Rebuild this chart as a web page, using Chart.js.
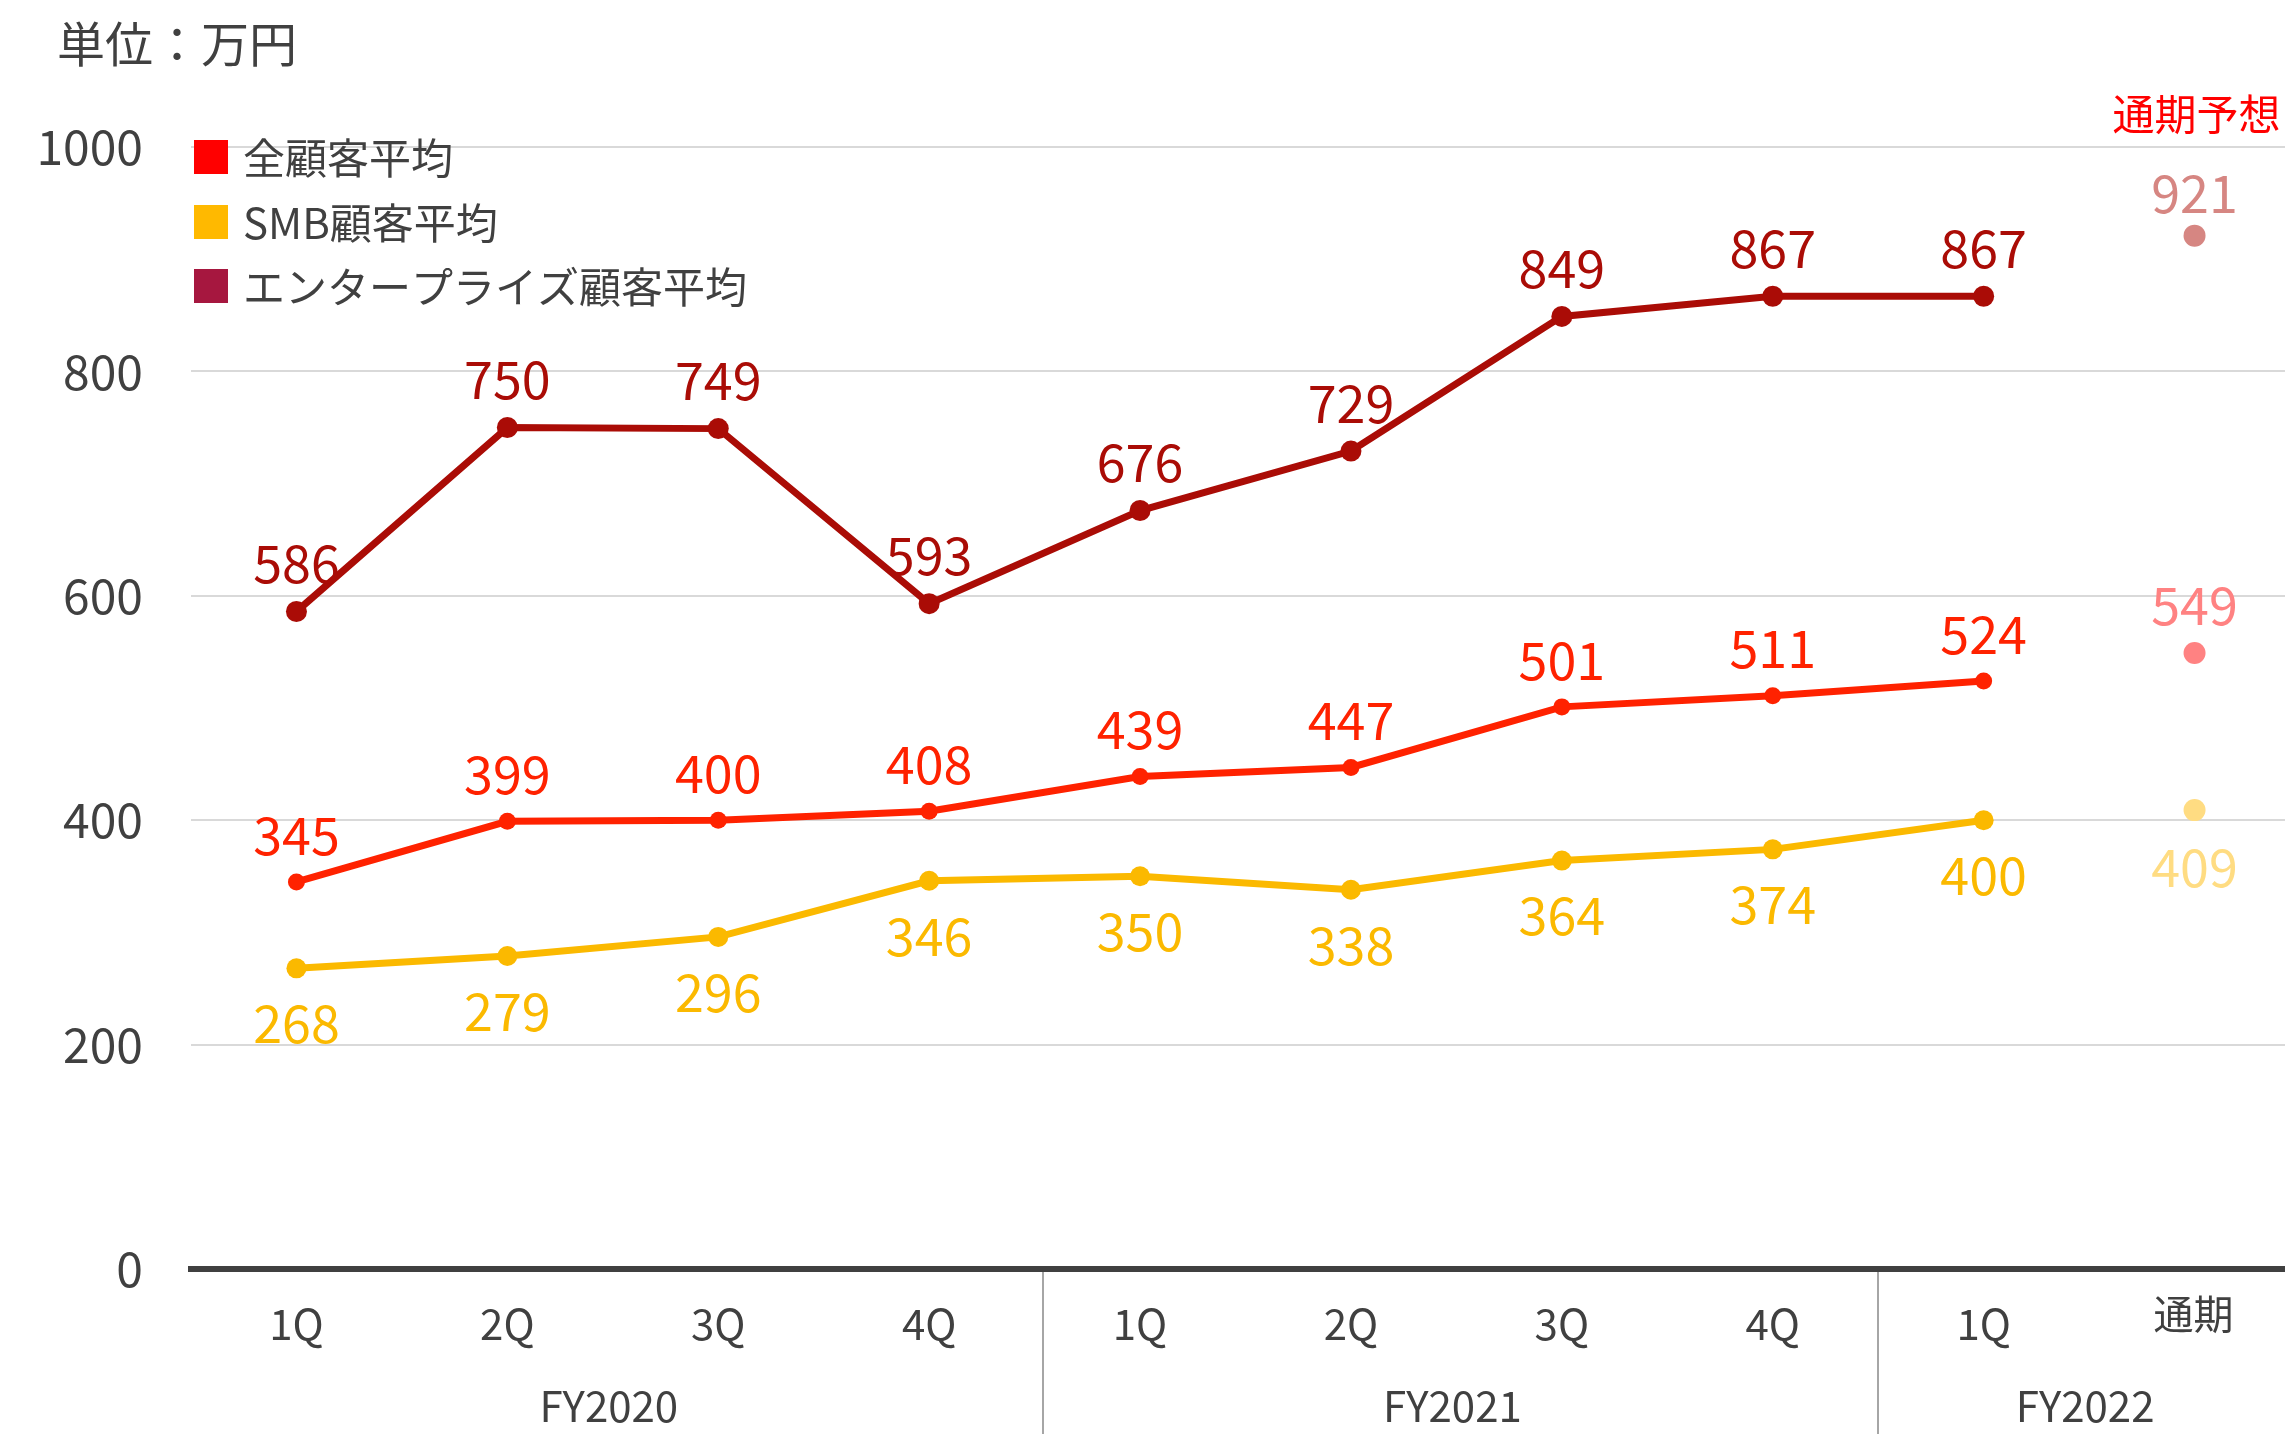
<!DOCTYPE html>
<html><head><meta charset="utf-8">
<script src="https://cdn.jsdelivr.net/npm/chart.js@4.4.0/dist/chart.umd.min.js"></script>
<style>html,body{margin:0;padding:0;background:#fff;overflow:hidden;width:2285px;height:1434px}canvas{display:block}</style>
</head><body>
<canvas id="c" width="2320" height="1434" style="width:2320px;height:1434px"></canvas>
<script>
// ---- data ----
const categories = ['1Q','2Q','3Q','4Q','1Q','2Q','3Q','4Q','1Q','通期'];
const fyLabels = ['FY2020','FY2021','FY2022'];
const fyStart = [0,4,8];
const fyEnd = [3,7,9];
const seriesNames = ['全顧客平均','SMB顧客平均','エンタープライズ顧客平均'];
const allAvg = [345,399,400,408,439,447,501,511,524,null];
const smbAvg = [268,279,296,346,350,338,364,374,400,null];
const entAvg = [586,750,749,593,676,729,849,867,867,null];
const allForecast = [null,null,null,null,null,null,null,null,null,549];
const smbForecast = [null,null,null,null,null,null,null,null,null,409];
const entForecast = [null,null,null,null,null,null,null,null,null,921];
const yTicks = [0,200,400,600,800,1000];
const unitLabel = '単位：万円';
const forecastTitle = '通期予想';

const FONT = "'Noto Sans CJK JP','Noto Sans',sans-serif";
const TXT = '#404040';
const C_ALL = '#FF2200', C_SMB = '#FBB900', C_ENT = '#AA0C06';
const C_ALL_F = '#FF8282', C_SMB_F = '#FFDC82', C_ENT_F = '#D68682';
const legendColors = ['#FF0000','#FFB900','#A6173F'];

// offsets of value labels relative to the point (px)
const labelOffset = [-48, -47, 55, -42, -48, 57];
const dividerNudge = [8, 0];

const datasets = [
  {data: entAvg, borderColor: C_ENT, backgroundColor: C_ENT, borderWidth: 7, pointRadius: 10.5},
  {data: allAvg, borderColor: C_ALL, backgroundColor: C_ALL, borderWidth: 7, pointRadius: 8.5},
  {data: smbAvg, borderColor: C_SMB, backgroundColor: C_SMB, borderWidth: 7, pointRadius: 10},
  {data: entForecast, borderColor: C_ENT_F, backgroundColor: C_ENT_F, showLine: false, pointRadius: 11},
  {data: allForecast, borderColor: C_ALL_F, backgroundColor: C_ALL_F, showLine: false, pointRadius: 11},
  {data: smbForecast, borderColor: C_SMB_F, backgroundColor: C_SMB_F, showLine: false, pointRadius: 11}
].map(d => Object.assign({pointBorderWidth: 0, pointHoverRadius: d.pointRadius, spanGaps: false, tension: 0}, d));

const decor = {
  id: 'decor',
  afterDatasetsDraw(chart) {
    const ctx = chart.ctx;
    const xs = chart.scales.x;
    const ca = chart.chartArea;
    ctx.save();
    // value labels
    ctx.textAlign = 'center';
    ctx.textBaseline = 'middle';
    ctx.font = '52px ' + FONT;
    chart.data.datasets.forEach((ds, di) => {
      const meta = chart.getDatasetMeta(di);
      ds.data.forEach((v, i) => {
        if (v === null) return;
        const el = meta.data[i];
        ctx.fillStyle = ds.borderColor;
        ctx.fillText(String(v), el.x, el.y + labelOffset[di]);
      });
    });
    // title
    ctx.fillStyle = TXT;
    ctx.textAlign = 'left';
    ctx.font = '48px ' + FONT;
    ctx.fillText(unitLabel, 57, 44);
    // legend
    ctx.font = '42px ' + FONT;
    const rows = [157, 222, 286];
    seriesNames.forEach((n, i) => {
      ctx.fillStyle = legendColors[i];
      ctx.fillRect(194, rows[i] - 17, 34, 34);
      ctx.fillStyle = TXT;
      ctx.fillText(n, 243, rows[i] + 1);
    });
    // forecast title
    ctx.fillStyle = '#FF0000';
    ctx.textAlign = 'center';
    ctx.font = '42px ' + FONT;
    ctx.fillText(forecastTitle, xs.getPixelForValue(9) + 2, 114);
    // category labels
    ctx.fillStyle = TXT;
    categories.forEach((c, i) => {
      const isCjk = /[^\x00-\x7f]/.test(c);
      ctx.font = (isCjk ? '40px ' : '42px ') + FONT;
      ctx.fillText(c, xs.getPixelForValue(i) + (isCjk ? -1 : 0), isCjk ? 1314 : 1324);
    });
    // fiscal-year labels
    ctx.font = '42px ' + FONT;
    fyLabels.forEach((f, i) => {
      const x = (xs.getPixelForValue(fyStart[i]) + xs.getPixelForValue(fyEnd[i])) / 2;
      ctx.fillText(f, x - 4, 1406);
    });
    // group dividers
    ctx.strokeStyle = '#A6A6A6';
    ctx.lineWidth = 2;
    for (let i = 1; i < fyStart.length; i++) {
      const x = Math.round((xs.getPixelForValue(fyStart[i] - 1) + xs.getPixelForValue(fyStart[i])) / 2) + dividerNudge[i - 1];
      ctx.beginPath();
      ctx.moveTo(x, ca.bottom + 3);
      ctx.lineTo(x, 1434);
      ctx.stroke();
    }
    ctx.restore();
  }
};

new Chart(document.getElementById('c'), {
  type: 'line',
  data: {labels: categories, datasets},
  options: {
    responsive: false,
    animation: false,
    events: [],
    layout: {padding: {top: 147, right: 20, bottom: 0, left: 0}},
    plugins: {legend: {display: false}, tooltip: {enabled: false}},
    scales: {
      x: {
        type: 'category',
        offset: true,
        grid: {display: false, drawTicks: false},
        border: {display: true, color: '#404040', width: 6},
        ticks: {display: false},
        afterFit(s) { s.height = 165; }
      },
      y: {
        min: 0, max: 1000,
        afterBuildTicks(s) { s.ticks = yTicks.map(v => ({value: v})); },
        grid: {color: '#D9D9D9', lineWidth: 2, drawTicks: false},
        border: {display: false},
        ticks: {color: TXT, font: {family: FONT, size: 48}, padding: 48, callback: v => String(v)},
        afterFit(s) { s.width = 191; }
      }
    }
  },
  plugins: [decor]
});
</script>
</body></html>
